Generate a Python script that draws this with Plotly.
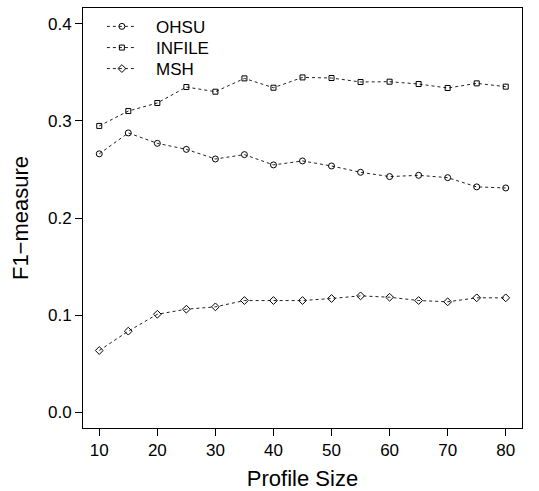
import plotly.graph_objects as go

profile_size = [10, 15, 20, 25, 30, 35, 40, 45, 50, 55, 60, 65, 70, 75, 80]
ohsu = [0.266, 0.2875, 0.2768, 0.2706, 0.2607, 0.2652, 0.2546, 0.2587,
        0.2535, 0.247, 0.2426, 0.2439, 0.2415, 0.232, 0.2309]
infile = [0.2947, 0.3100, 0.3183, 0.3347, 0.3299, 0.3436, 0.3340, 0.3446,
          0.3440, 0.3399, 0.3402, 0.3378, 0.3337, 0.3385, 0.3351]
msh = [0.0637, 0.0836, 0.1010, 0.1062, 0.1086, 0.1151, 0.1151, 0.1151,
       0.1172, 0.1199, 0.1185, 0.1151, 0.1138, 0.1179, 0.1179]

x_ticks = [10, 20, 30, 40, 50, 60, 70, 80]
y_ticks = [0.0, 0.1, 0.2, 0.3, 0.4]

FONT = "Liberation Sans, Arial, Helvetica, sans-serif"
PAD = "\u00a0\u00a0\u00a0"  # gap between legend key and label

# one legend box per series so the rows sit close together
series = [
    ("OHSU", ohsu, "circle-open", 6, "legend", 0.998),
    ("INFILE", infile, "square-open", 5, "legend2", 0.9476),
    ("MSH", msh, "diamond-open", 6, "legend3", 0.8976),
]

fig = go.Figure()
legend_layout = {}
for name, vals, symbol, size, leg, ypos in series:
    fig.add_trace(go.Scatter(
        x=profile_size, y=vals, name=PAD + name, mode="lines+markers",
        legend=leg,
        line=dict(color="#222222", width=1, dash="3px,3px"),
        marker=dict(symbol=symbol, size=size, color="#000000",
                    line=dict(color="#000000", width=1)),
    ))
    legend_layout[leg] = dict(
        x=0.043, y=ypos, xanchor="left", yanchor="top",
        bgcolor="rgba(0,0,0,0)", borderwidth=0,
        font=dict(size=17), itemwidth=30,
    )

fig.update_layout(
    width=539, height=491,
    margin=dict(l=83, r=17, t=8, b=63),
    paper_bgcolor="white", plot_bgcolor="white",
    font=dict(family=FONT, size=17, color="#000000"),
    showlegend=True,
    xaxis=dict(
        range=[7.2, 82.8], tickvals=x_ticks, ticktext=[str(v) for v in x_ticks],
        ticks="outside", ticklen=7, tickcolor="#000000", tickwidth=1,
        showgrid=False, zeroline=False, automargin=False,
        showline=True, linecolor="#000000", linewidth=1, mirror=True,
        title=dict(text="Profile Size", font=dict(size=22), standoff=13),
    ),
    yaxis=dict(
        range=[-0.016, 0.416], tickvals=y_ticks,
        ticktext=[f"{v:.1f}" for v in y_ticks],
        ticks="outside", ticklen=7, tickcolor="#000000", tickwidth=1,
        showgrid=False, zeroline=False, automargin=False,
        showline=True, linecolor="#000000", linewidth=1, mirror=True,
        title=dict(text="F1\u2212measure", font=dict(size=22), standoff=13),
    ),
    **legend_layout,
)

fig.write_html("out.html")
